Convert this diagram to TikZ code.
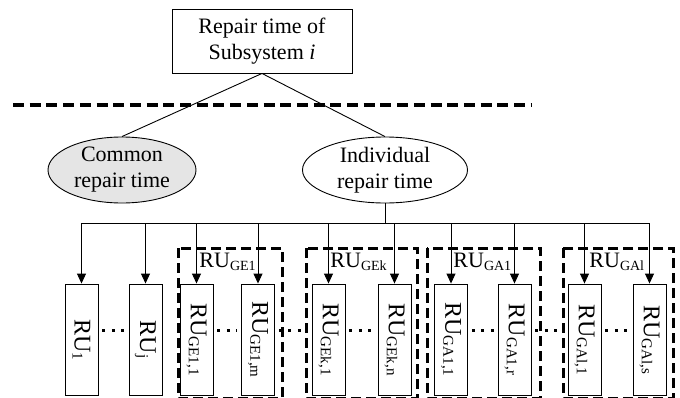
\documentclass[tikz,border=0pt]{standalone}
\usepackage{fontspec}
\setmainfont{Liberation Serif}
\usepackage{graphicx}
\usepackage{tikz}
\usetikzlibrary{arrows.meta,shapes.geometric}

\newcommand{\RUsub}[1]{RU\raisebox{-3pt}{\fontsize{14}{14}\selectfont #1}}
\newcommand{\vRU}[1]{\rotatebox{-90}{\fontsize{24}{24}\selectfont RU\raisebox{-2pt}{\fontsize{15}{15}\selectfont #1}}}

\begin{document}
\begin{tikzpicture}[x=1pt,y=-1pt,line width=0.9pt,
  font=\fontsize{22}{26}\selectfont,
  box/.style={draw, align=center, inner sep=0pt, minimum width=180pt, minimum height=64pt},
  oval/.style={draw, ellipse, align=center, inner sep=0pt, minimum width=#1, minimum height=66pt},
  rubox/.style={draw, inner sep=0pt, minimum width=33pt, minimum height=111pt},
  arr/.style={-{Triangle[width=9pt,length=10pt]}},
  sepline/.style={line width=3.3pt, dash pattern=on 11pt off 5.7pt},
  grp/.style={line width=3pt, dash pattern=on 10pt off 5pt},
  dotrow/.style={line width=3pt, dash pattern=on 3pt off 6.5pt, shorten >=4pt, shorten <=4pt}]
\useasboundingbox (0,0) rectangle (680,397);

% top of the tree
\node[box] (top) at (262,41) {Repair time of\\Subsystem \textit{i}};
\coordinate (sepL) at (13,105);
\coordinate (sepR) at (531,105);
\draw[sepline] (sepL) -- (sepR);
\node[oval=148pt, fill=gray!20] (common) at (122,170) {Common\\repair time};
\node[oval=165pt] (indiv) at (385,170) {Individual\\repair time};
\draw (top.south) -- (common.north);
\draw (top.south) -- (indiv.north);

% repair units
\node[rubox] (ru1) at (81.5,339.5) {\vRU{1}};
\node[rubox] (ruj) at (145.5,339.5) {\vRU{j}};
\node[rubox] (ge11) at (196.5,339.5) {\vRU{GE1,1}};
\node[rubox] (ge1m) at (258,339.5) {\vRU{GE1,m}};
\node[rubox] (gek1) at (328.5,339.5) {\vRU{GEk,1}};
\node[rubox] (gekn) at (394.5,339.5) {\vRU{GEk,n}};
\node[rubox] (ga11) at (451,339.5) {\vRU{GA1,1}};
\node[rubox] (ga1r) at (514.5,339.5) {\vRU{GA1,r}};
\node[rubox] (gal1) at (584.5,339.5) {\vRU{GAl,1}};
\node[rubox] (gals) at (649.5,339.5) {\vRU{GAl,s}};

% groups
\draw[grp] (178,248) rectangle (282,398);
\draw[grp] (306,248) rectangle (417,398);
\draw[grp] (427,248) rectangle (540,398);
\draw[grp] (563,248) rectangle (673,398);
\node[anchor=base west, inner sep=0pt] (lGE1) at (199,267) {\RUsub{GE1}};
\node[anchor=base west, inner sep=0pt] (lGEk) at (330,267) {\RUsub{GEk}};
\node[anchor=base west, inner sep=0pt] (lGA1) at (453,267) {\RUsub{GA1}};
\node[anchor=base west, inner sep=0pt] (lGAl) at (589,267) {\RUsub{GAl}};

% bus and arrows
\coordinate (bus) at (385,223);
\draw (indiv.south) -- (bus);
\draw (bus -| ru1) -- (bus -| gals);
\foreach \n in {ru1,ruj,ge11,ge1m,gek1,gekn,ga11,ga1r,gal1,gals}
  \draw[arr] (bus -| \n) -- (\n.north);

% dots between units
\draw[dotrow] ([yshift=9.5pt]ru1.east) -- ([yshift=9.5pt]ruj.west);
\draw[dotrow] ([yshift=9.5pt]ge11.east) -- ([yshift=9.5pt]ge1m.west);
\draw[dotrow] ([yshift=9.5pt]ge1m.east) -- ([yshift=9.5pt]gek1.west);
\draw[dotrow] ([yshift=9.5pt]gek1.east) -- ([yshift=9.5pt]gekn.west);
\draw[dotrow] ([yshift=9.5pt]ga11.east) -- ([yshift=9.5pt]ga1r.west);
\draw[dotrow] ([yshift=9.5pt]ga1r.east) -- ([yshift=9.5pt]gal1.west);
\draw[dotrow] ([yshift=9.5pt]gal1.east) -- ([yshift=9.5pt]gals.west);
\end{tikzpicture}
\end{document}
